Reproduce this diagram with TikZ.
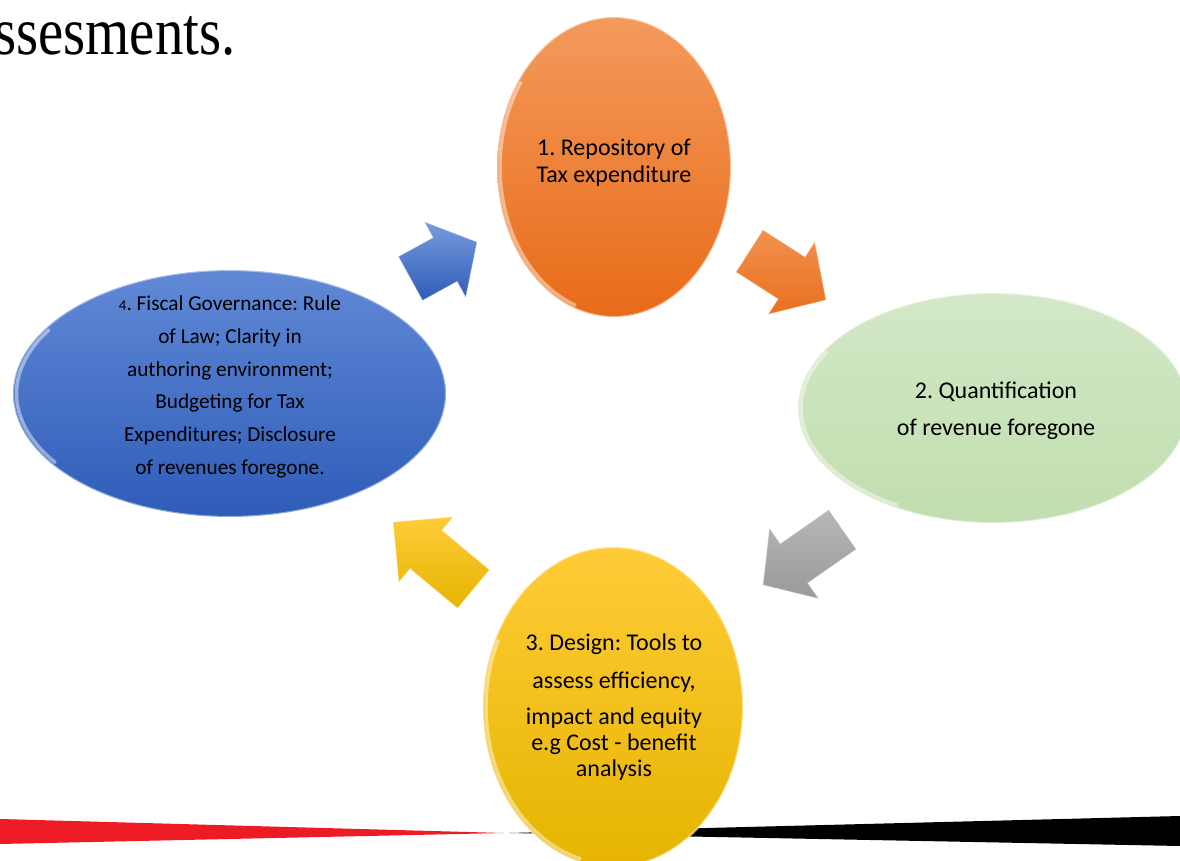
\documentclass[tikz,border=0pt]{standalone}
\usepackage{fontspec}
\setmainfont{Carlito}
\newfontfamily\headfont{Liberation Serif}
\usetikzlibrary{shapes.geometric,calc}
\frenchspacing

% palette
\definecolor{orgTop}{HTML}{F49A5C}
\definecolor{orgBot}{HTML}{E86B18}
\definecolor{grnTop}{HTML}{D3E8C7}
\definecolor{grnBot}{HTML}{C1DEAF}
\definecolor{ylwTop}{HTML}{FFCC38}
\definecolor{ylwBot}{HTML}{E6B400}
\definecolor{bluTop}{HTML}{6189D6}
\definecolor{bluBot}{HTML}{2E5CB8}
\definecolor{barRed}{HTML}{ED1C24}

% block arrow: #1 style, #2 tail point, #3 tip point,
% #4 shaft half width, #5 head half width, #6 fraction where the head starts
\newcommand\blockarrow[6]{%
  \coordinate (#2-h) at ($(#2)!#6!(#3)$);
  \path[#1]
    ($(#2)!#4!90:(#3)$) -- ($(#2-h)!#4!90:(#3)$) -- ($(#2-h)!#5!90:(#3)$)
    -- (#3)
    -- ($(#2-h)!#5!-90:(#3)$) -- ($(#2-h)!#4!-90:(#3)$) -- ($(#2)!#4!-90:(#3)$)
    -- cycle;
}

\begin{document}
\begin{tikzpicture}[x=0.02cm,y=-0.02cm,
  oval/.style={ellipse, inner sep=0pt, draw=white, draw opacity=0.45, line width=1.2pt},
  rim/.style={draw=white, draw opacity=0.45, line width=2pt, line cap=round},
  txt/.style={align=center, text=black, inner sep=0pt},
  barrow/.style={draw=white, draw opacity=0.3, line width=0.6pt, line join=miter}]
\useasboundingbox (0,0) rectangle (1180,861);
\clip (0,0) rectangle (1180,861);

% heading fragment at the top left
\node[anchor=base east, inner sep=0pt, font=\headfont\fontsize{38.5}{40}\selectfont]
  (head) at (236,55) {\scalebox{0.84}[1]{ssesments.}};

% footer wedges
\fill[black] (1180,816) -- (1180,846) -- (509,833) -- cycle;
\fill[barRed] (0,819) -- (0,844) -- (504,833) -- cycle;

% the four stages
\node[oval, minimum width=4.68cm, minimum height=6.0cm,
  top color=orgTop, bottom color=orgBot] (s1) at (614,167) {};
\node[oval, minimum width=7.8cm, minimum height=4.6cm,
  top color=grnTop, bottom color=grnBot] (s2) at (993,408) {};
\node[oval, minimum width=5.2cm, minimum height=6.4cm,
  top color=ylwTop, bottom color=ylwBot] (s3) at (613,707) {};
\node[oval, minimum width=8.66cm, minimum height=4.94cm,
  top color=bluTop, bottom color=bluBot] (s4) at (229.5,393.5) {};

% glossy highlights along the lower left edges
\draw[rim] (s1.center) ++(110:114 and 147) arc[start angle=110, end angle=215, x radius=114, y radius=147];
\draw[rim] (s2.center) ++(120:192 and 112) arc[start angle=120, end angle=210, x radius=192, y radius=112];
\draw[rim] (s3.center) ++(105:127 and 157) arc[start angle=105, end angle=205, x radius=127, y radius=157];
\draw[rim] (s4.center) ++(145:213 and 120) arc[start angle=145, end angle=212, x radius=213, y radius=120];

% texts
\node[txt, font=\fontsize{13.66}{15.4}\selectfont] (t1) at (614,163)
  {1. Repository of\\Tax expenditure};
\node[txt, font=\fontsize{13.66}{21}\selectfont] (t2) at (996,411)
  {2. Quantification\\of revenue foregone};
\node[txt, font=\fontsize{13.66}{14.8}\selectfont] (t3) at (614,707)
  {3. Design: Tools to\\[6.8pt]assess efficiency,\\[5.7pt]impact and equity\\e.g Cost - benefit\\analysis};
\node[txt, font=\fontsize{12.1}{18.6}\selectfont] (t4) at (230,387)
  {{\fontsize{8.5}{10}\selectfont 4}. Fiscal Governance: Rule\\of Law; Clarity in\\authoring environment;\\Budgeting for Tax\\Expenditures; Disclosure\\of revenues foregone.};

% arrows between the stages
\coordinate (a1t) at (749.5,251);  \coordinate (a1p) at (826,300);
\coordinate (a2t) at (842.5,529.5); \coordinate (a2p) at (763,585);
\coordinate (a3t) at (473.5,589);  \coordinate (a3p) at (393,522);
\coordinate (a4t) at (410.5,278.5); \coordinate (a4p) at (477,242);

\blockarrow{barrow, top color=orgTop!80!orgBot, bottom color=orgBot!90!orgTop}{a1t}{a1p}{0.5cm}{0.86cm}{0.55}
\blockarrow{barrow, top color=black!28, bottom color=black!40}{a2t}{a2p}{0.48cm}{0.86cm}{0.61}
\blockarrow{barrow, top color=ylwTop, bottom color=ylwBot}{a3t}{a3p}{0.5cm}{0.85cm}{0.59}
\blockarrow{barrow, top color=bluTop!85!white, bottom color=bluBot}{a4t}{a4p}{0.5cm}{0.86cm}{0.52}
\end{tikzpicture}
\end{document}
